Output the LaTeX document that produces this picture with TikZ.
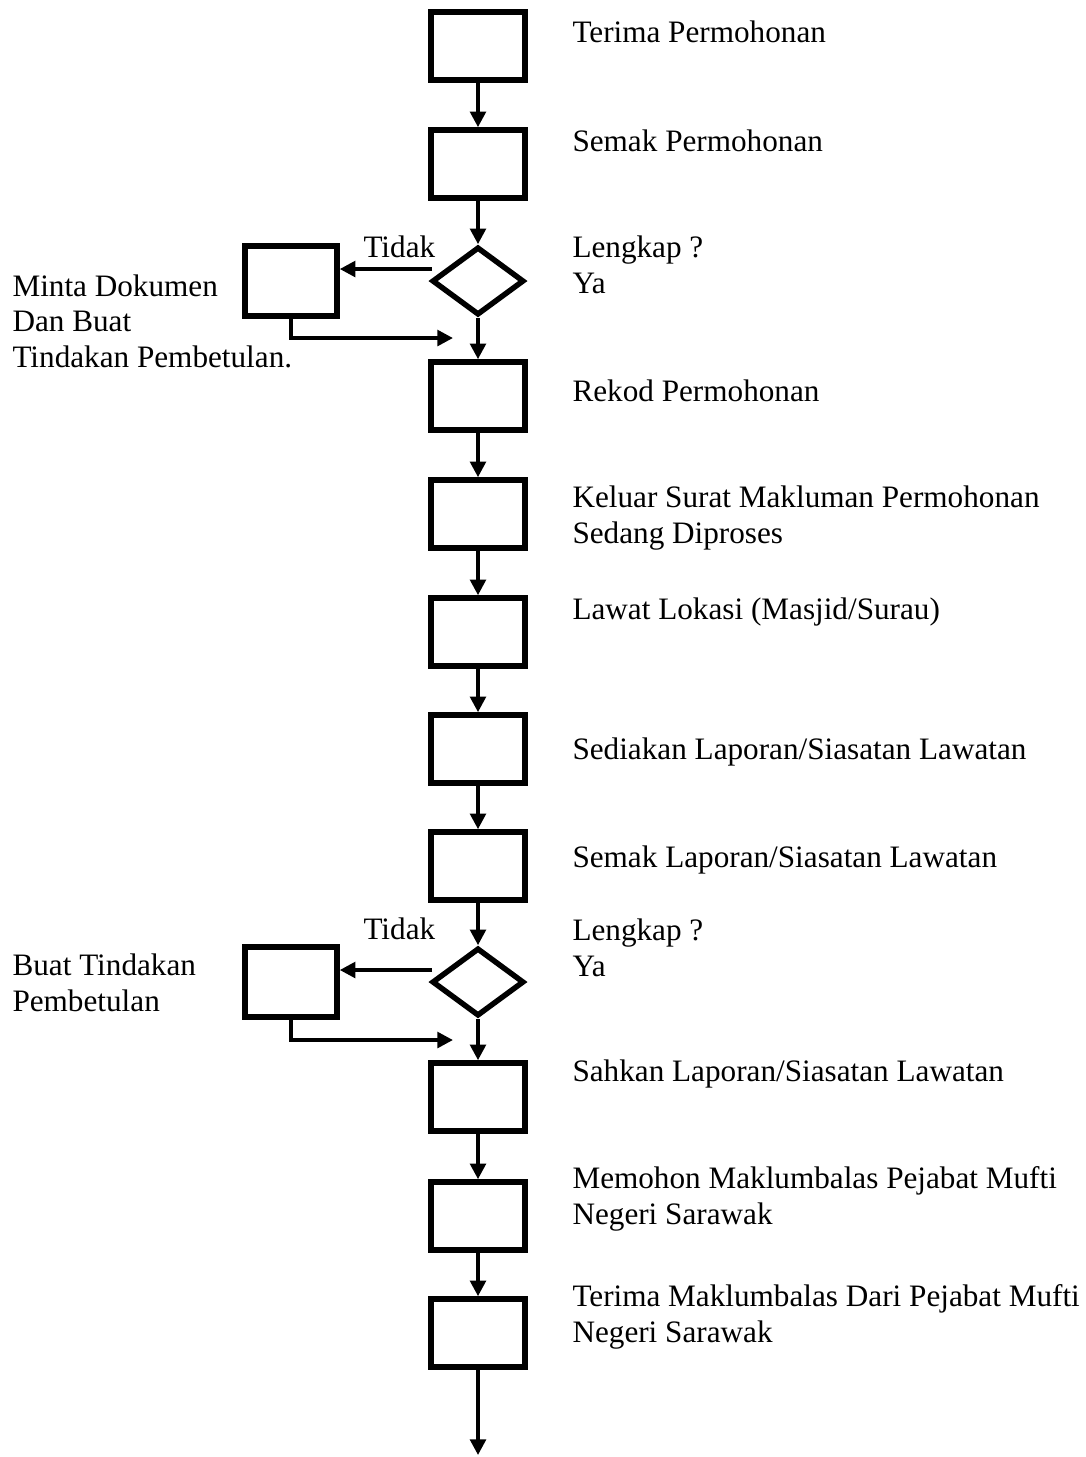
\documentclass[tikz,border=0pt]{standalone}
\usepackage{fontspec}
\setmainfont{Liberation Serif}
\usetikzlibrary{shapes.geometric,arrows.meta}

\begin{document}
\begin{tikzpicture}
[x=0.3846pt,y=-0.3846pt,font=\fontsize{12pt}{13.5pt}\selectfont,
 proc/.style={draw,line width=2.1pt,minimum width=36.2pt,minimum height=26.2pt,inner sep=0pt},
 side/.style={proc,minimum width=35.4pt,minimum height=26.9pt},
 dec/.style={draw,diamond,line width=2.1pt,minimum width=35.4pt,minimum height=26.2pt,inner sep=0pt},
 flow/.style={line width=1.4pt,-{Triangle[length=6pt,width=6pt]}},
 lbl/.style={anchor=base west,align=left,inner sep=0pt}]
	\useasboundingbox (0,0) rectangle (1086,1457);

	% main column
	\node[proc] (terima) at (478,46) {};
	\node[proc] (semak) at (478,164) {};
	\node[dec] (lengkapA) at (478,281) {};
	\node[proc] (rekod) at (478,396) {};
	\node[proc] (keluar) at (478,514) {};
	\node[proc] (lawat) at (478,632) {};
	\node[proc] (sedia) at (478,749) {};
	\node[proc] (semakLap) at (478,866) {};
	\node[dec] (lengkapB) at (478,982) {};
	\node[proc] (sahkan) at (478,1097) {};
	\node[proc] (memohon) at (478,1216) {};
	\node[proc] (terimaMak) at (478,1333) {};
	\coordinate (akhir) at (478,1455);

	% side boxes
	\node[side] (minta) at (291,281) {};
	\node[side] (betul) at (291,982) {};

	% arrows down the column
	\draw[flow] (terima) -- (semak);
	\draw[flow] (semak) -- (lengkapA);
	\draw[flow] (lengkapA) -- (rekod);
	\draw[flow] (rekod) -- (keluar);
	\draw[flow] (keluar) -- (lawat);
	\draw[flow] (lawat) -- (sedia);
	\draw[flow] (sedia) -- (semakLap);
	\draw[flow] (semakLap) -- (lengkapB);
	\draw[flow] (lengkapB) -- (sahkan);
	\draw[flow] (sahkan) -- (memohon);
	\draw[flow] (memohon) -- (terimaMak);
	\draw[flow] (terimaMak) -- (akhir);

	% Tidak branches
	\coordinate (tidakA) at (432,269);
	\coordinate (balikA) at (453,338);
	\draw[flow] (tidakA) -- (tidakA -| minta.east);
	\draw[flow] (minta.south) |- (balikA);
	\coordinate (tidakB) at (432,970);
	\coordinate (balikB) at (453,1040);
	\draw[flow] (tidakB) -- (tidakB -| betul.east);
	\draw[flow] (betul.south) |- (balikB);

	% labels (base = last line)
	\node[lbl] (tTerima) at (572,42) {Terima Permohonan};
	\node[lbl] (tSemak) at (572,151) {Semak Permohonan};
	\node[lbl] (tLengkapA) at (572,293) {Lengkap ?\\Ya};
	\node[lbl] (tTidakA) at (363,257) {Tidak};
	\node[lbl] (tMinta) at (12,367) {Minta Dokumen\\Dan Buat\\Tindakan Pembetulan.};
	\node[lbl] (tRekod) at (572,401) {Rekod Permohonan};
	\node[lbl] (tKeluar) at (572,543) {Keluar Surat Makluman Permohonan\\Sedang Diproses};
	\node[lbl] (tLawat) at (572,619) {Lawat Lokasi (Masjid/Surau)};
	\node[lbl] (tSedia) at (572,759) {Sediakan Laporan/Siasatan Lawatan};
	\node[lbl] (tSemakLap) at (572,867) {Semak Laporan/Siasatan Lawatan};
	\node[lbl] (tTidakB) at (363,939) {Tidak};
	\node[lbl] (tLengkapB) at (572,976) {Lengkap ?\\Ya};
	\node[lbl] (tBetul) at (12,1011) {Buat Tindakan\\Pembetulan};
	\node[lbl] (tSahkan) at (572,1081) {Sahkan Laporan/Siasatan Lawatan};
	\node[lbl] (tMemohon) at (572,1224) {Memohon Maklumbalas Pejabat Mufti\\Negeri Sarawak};
	\node[lbl] (tTerimaMak) at (572,1342) {Terima Maklumbalas Dari Pejabat Mufti\\Negeri Sarawak};
\end{tikzpicture}
\end{document}
